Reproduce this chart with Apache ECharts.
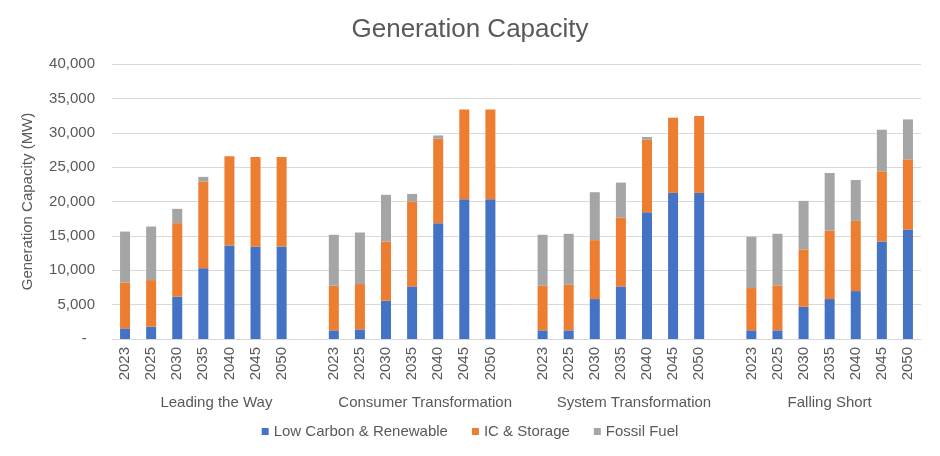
<!DOCTYPE html>
<html>
<head>
<meta charset="utf-8">
<script src="https://cdn.jsdelivr.net/npm/echarts@6/dist/echarts.min.js"></script>
<style>
html,body{margin:0;padding:0;background:#fff;}
#chart{width:940px;height:456px;}
</style>
</head>
<body>
<div id="chart"></div>
<script>
const years = ['2023','2025','2030','2035','2040','2045','2050'];
const groups = ['Leading the Way','Consumer Transformation','System Transformation','Falling Short'];
const seriesNames = ['Low Carbon & Renewable','IC & Storage','Fossil Fuel'];
const yTicks = [0, 5000, 10000, 15000, 20000, 25000, 30000, 35000, 40000];

// Low Carbon & Renewable per scenario
const lowCarbonLTW = [1550, 1790, 6150, 10300, 13600, 13450, 13450];
const lowCarbonCT  = [1260, 1400, 5570, 7650, 16840, 20330, 20330];
const lowCarbonST  = [1260, 1260, 5810, 7650, 18440, 21250, 21250];
const lowCarbonFS  = [1260, 1260, 4700, 5810, 6970, 14180, 15920];
// IC & Storage per scenario
const icStorageLTW = [6680, 6780, 10700, 12600, 12970, 13030, 13030];
const icStorageCT  = [6490, 6590, 8620, 12340, 12290, 13070, 13070];
const icStorageST  = [6490, 6630, 8570, 10020, 10550, 10940, 11180];
const icStorageFS  = [6150, 6540, 8320, 9970, 10210, 10210, 10210];
// Fossil Fuel per scenario
const fossilLTW = [7400, 7790, 2080, 680, 0, 0, 0];
const fossilCT  = [7410, 7500, 6780, 1110, 480, 0, 0];
const fossilST  = [7410, 7410, 6970, 5080, 390, 0, 0];
const fossilFS  = [7460, 7500, 7070, 8370, 5950, 6050, 5810];

function flatten(arrs){
  const out = [];
  arrs.forEach((a, i) => {
    a.forEach(v => out.push(v));
    if (i < arrs.length - 1) out.push('-');
  });
  return out;
}
const cats = [];
groups.forEach((g, i) => {
  years.forEach(y => cats.push(y));
  if (i < groups.length - 1) cats.push('');
});
const lowCarbon = flatten([lowCarbonLTW, lowCarbonCT, lowCarbonST, lowCarbonFS]);
const icStorage = flatten([icStorageLTW, icStorageCT, icStorageST, icStorageFS]);
const fossil = flatten([fossilLTW, fossilCT, fossilST, fossilFS]);

// group label axis: half-slot resolution, groups span 8 slots (7 years + blank)
const halfSlots = cats.length * 2 + 1;
const groupAxis = new Array(halfSlots).fill('');
groups.forEach((g, i) => {
  const start = i * 8;
  const count = i < groups.length - 1 ? 8 : 7;
  groupAxis[start * 2 + count] = g;
});

const FONT = "'Liberation Sans', Arial, sans-serif";
const TXT = '#595959';
const colors = ['#4472C4', '#ED7D31', '#A5A5A5'];

const chart = echarts.init(document.getElementById('chart'), null, {renderer: 'canvas'});
chart.setOption({
  animation: false,
  color: colors,
  textStyle: {fontFamily: FONT, color: TXT},
  title: {
    text: 'Generation Capacity',
    left: 'center', top: 17, padding: 0,
    textStyle: {fontFamily: FONT, fontSize: 26, fontWeight: 'normal', color: TXT}
  },
  legend: {
    data: seriesNames,
    top: 424, left: 'center', padding: 0,
    itemWidth: 7, itemHeight: 7, itemGap: 24, icon: 'rect',
    textStyle: {fontFamily: FONT, fontSize: 15, color: TXT}
  },
  grid: {left: 112, right: 19, top: 64, bottom: 117, containLabel: false},
  xAxis: [
    {
      type: 'category', data: cats,
      axisLine: {lineStyle: {color: '#D9D9D9', width: 1}},
      axisTick: {show: false},
      axisLabel: {interval: 0, rotate: 90, margin: 8, fontSize: 15, color: TXT, fontFamily: FONT}
    },
    {
      type: 'category', data: groupAxis, position: 'bottom', offset: 50,
      boundaryGap: false,
      axisLine: {show: false}, axisTick: {show: false}, splitLine: {show: false},
      axisLabel: {interval: 0, margin: 6, fontSize: 15, color: TXT, fontFamily: FONT}
    }
  ],
  yAxis: {
    type: 'value', min: yTicks[0], max: yTicks[yTicks.length - 1], interval: yTicks[1] - yTicks[0],
    name: 'Generation Capacity (MW)', nameLocation: 'middle', nameRotate: 90, nameGap: 77,
    nameTextStyle: {fontFamily: FONT, fontSize: 15, color: TXT},
    axisLine: {show: false}, axisTick: {show: false},
    splitLine: {lineStyle: {color: '#D9D9D9', width: 1}},
    axisLabel: {
      margin: 17, fontSize: 15, color: TXT, fontFamily: FONT,
      formatter: v => v === 0 ? '-  ' : v.toLocaleString('en-US')
    }
  },
  series: [
    {name: seriesNames[0], type: 'bar', stack: 'total', barWidth: 10, data: lowCarbon},
    {name: seriesNames[1], type: 'bar', stack: 'total', barWidth: 10, data: icStorage},
    {name: seriesNames[2], type: 'bar', stack: 'total', barWidth: 10, data: fossil}
  ]
});
</script>
</body>
</html>
